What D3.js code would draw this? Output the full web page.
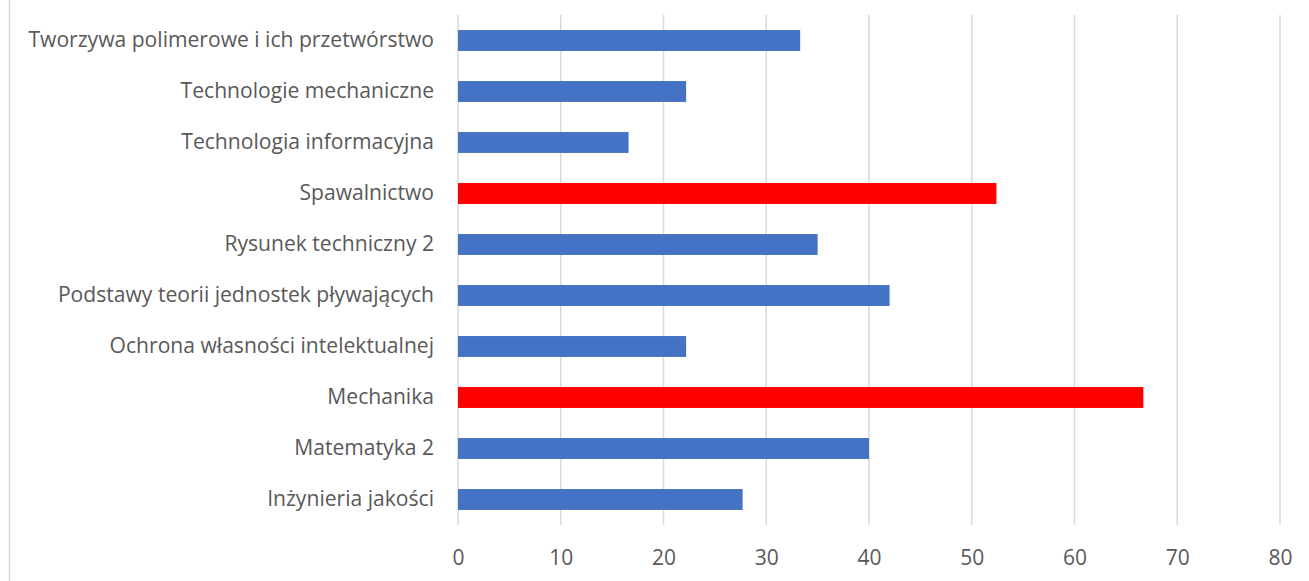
<!DOCTYPE html>
<html><head><meta charset="utf-8">
<script src="https://cdn.jsdelivr.net/npm/d3@7"></script>
<style>body{margin:0;background:#fff}svg{display:block}</style>
</head><body>
<script>
const categories = ["Tworzywa polimerowe i ich przetwórstwo","Technologie mechaniczne","Technologia informacyjna","Spawalnictwo","Rysunek techniczny 2","Podstawy teorii jednostek pływających","Ochrona własności intelektualnej","Mechanika","Matematyka 2","Inżynieria jakości"];
const values = [33.3,22.2,16.6,52.4,35.0,42.0,22.2,66.7,40.0,27.7];
const highlighted = ["Spawalnictwo","Mechanika"];
const xTicks = [0,10,20,30,40,50,60,70,80];

const W=1309,H=581;
const m={left:458,right:29,top:15,bottom:56};
const svg=d3.select("body").append("svg").attr("width",W).attr("height",H);
svg.append("line").attr("x1",9.5).attr("x2",9.5).attr("y1",0).attr("y2",H).attr("stroke","#d9d9d9").attr("stroke-width",1.5);

const x=d3.scaleLinear().domain([0,80]).range([m.left,W-m.right]);
const y=d3.scaleBand().domain(categories).range([m.top,H-m.bottom]).paddingInner(0.59).paddingOuter(0.295);

// gridlines
svg.append("g").selectAll("line").data(xTicks).join("line")
 .attr("x1",d=>x(d)).attr("x2",d=>x(d)).attr("y1",m.top).attr("y2",H-m.bottom)
 .attr("stroke","#d9d9d9").attr("stroke-width",1.5);

svg.append("g").selectAll("rect").data(categories).join("rect")
 .attr("x",x(0)).attr("y",d=>y(d)).attr("height",y.bandwidth())
 .attr("width",(d,i)=>x(values[i])-x(0))
 .attr("fill",d=>highlighted.includes(d)?"#ff0000":"#4472c4");

const font="'Open Sans', sans-serif";
const xa=svg.append("g").attr("transform",`translate(0,${H-m.bottom})`)
 .call(d3.axisBottom(x).tickValues(xTicks).tickSize(0).tickPadding(25));
xa.select(".domain").remove();
xa.selectAll("text").attr("font-family",font).attr("font-size",21).attr("fill","#595959");

const ya=svg.append("g").attr("transform",`translate(${m.left},0)`)
 .call(d3.axisLeft(y).tickSize(0).tickPadding(24));
ya.select(".domain").remove();
ya.selectAll("text").attr("font-family",font).attr("font-size",21.1).attr("fill","#595959");
</script>
</body></html>
